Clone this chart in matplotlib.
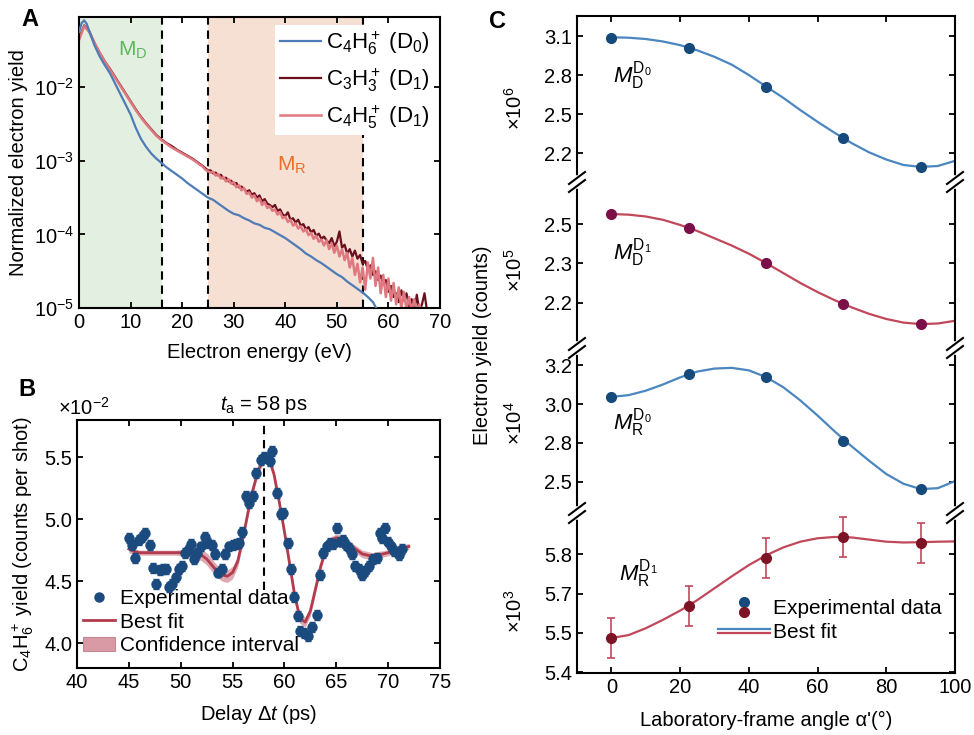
import numpy as np
import matplotlib
matplotlib.use('Agg')
import matplotlib.pyplot as plt
from matplotlib.lines import Line2D
from matplotlib.patches import Patch
from matplotlib.legend_handler import HandlerBase
from matplotlib.ticker import NullLocator, FixedLocator, FormatStrFormatter
from matplotlib.transforms import blended_transform_factory

# ---------------- data: panel A (log10 of normalized yield) ----------------
energy_d0 = [0, 0.5, 1, 1.5, 2, 3, 4, 5, 6, 7, 8, 9, 10, 11, 12, 13, 14, 15, 16, 17, 18, 19,
             20, 21, 22, 23, 24, 25, 26, 27, 28, 29, 30, 31, 32, 33, 34, 35, 36, 37, 38, 39,
             40, 41, 42, 43, 44, 45, 46, 47, 48, 49, 50, 51, 52, 53, 54, 55, 56, 57, 58]
logy_d0 = [-1.25, -1.13, -1.09, -1.14, -1.24, -1.43, -1.58, -1.70, -1.81, -1.95, -2.09, -2.23,
           -2.37, -2.55, -2.70, -2.81, -2.90, -2.97, -3.03, -3.09, -3.14, -3.19, -3.24, -3.30,
           -3.35, -3.40, -3.45, -3.50, -3.53, -3.58, -3.63, -3.68, -3.72, -3.74, -3.78, -3.81,
           -3.85, -3.87, -3.91, -3.93, -3.97, -4.01, -4.05, -4.10, -4.15, -4.20, -4.26, -4.30,
           -4.35, -4.39, -4.44, -4.49, -4.54, -4.58, -4.64, -4.69, -4.74, -4.79, -4.85, -4.92, -5.05]

energy_c3h3 = list(range(0, 25)) + [24.5 + 0.5 * i for i in range(88)]
logy_c3h3 = [-1.34, -1.16, -1.24, -1.40, -1.53, -1.65, -1.75, -1.86, -1.97, -2.08, -2.19, -2.30,
             -2.40, -2.49, -2.57, -2.65, -2.71, -2.76, -2.80, -2.85, -2.89, -2.93, -2.97, -3.02, -3.07,
             -3.10, -3.13, -3.13, -3.17, -3.16, -3.20, -3.19, -3.24, -3.23, -3.28, -3.27, -3.32,
             -3.30, -3.36, -3.35, -3.38, -3.42, -3.40, -3.46, -3.44, -3.50, -3.47, -3.55, -3.52,
             -3.58, -3.60, -3.63, -3.60, -3.68, -3.66, -3.73, -3.75, -3.70, -3.80, -3.78, -3.84,
             -3.80, -3.88, -3.86, -3.93, -3.90, -3.97, -3.94, -4.02, -3.99, -4.06, -4.03, -4.08,
             -4.12, -4.05, -4.16, -4.10, -3.96, -4.18, -4.14, -4.26, -4.20, -4.30, -4.22, -4.33,
             -4.28, -4.40, -4.36, -4.48, -4.42, -4.55, -4.50, -4.62, -4.56, -4.68, -4.62, -4.78,
             -4.70, -4.85, -4.80, -4.92, -4.76, -4.90, -4.80, -4.98, -4.88, -5.05, -4.82, -5.05,
             -4.95, -4.80, -5.05, -5.10]

energy_c4h5 = list(range(0, 25)) + [24.5 + 0.5 * i for i in range(85)]
logy_c4h5 = [-1.36, -1.17, -1.25, -1.40, -1.53, -1.65, -1.76, -1.87, -1.98, -2.09, -2.20, -2.31,
             -2.41, -2.50, -2.58, -2.66, -2.72, -2.77, -2.82, -2.86, -2.90, -2.94, -2.98, -3.03, -3.08,
             -3.12, -3.14, -3.16, -3.15, -3.20, -3.18, -3.24, -3.22, -3.28, -3.25, -3.31, -3.29,
             -3.36, -3.33, -3.40, -3.37, -3.45, -3.43, -3.50, -3.47, -3.55, -3.51, -3.60, -3.56,
             -3.64, -3.62, -3.68, -3.66, -3.73, -3.70, -3.78, -3.76, -3.83, -3.80, -3.88, -3.85,
             -3.92, -3.89, -3.96, -3.93, -4.01, -3.98, -4.06, -4.02, -4.10, -4.07, -4.15, -4.08,
             -4.20, -4.12, -4.25, -4.15, -4.30, -4.20, -4.35, -4.25, -4.45, -4.32, -4.55, -4.40,
             -4.65, -4.45, -4.75, -4.38, -4.60, -4.32, -4.70, -4.45, -4.80, -4.55, -4.85, -4.60,
             -4.90, -4.66, -4.95, -4.72, -5.00, -4.78, -5.02, -4.85, -5.05, -4.88, -5.05, -4.95, -5.10]

regions_A = {'MD': (0, 16), 'MR': (25, 55)}

# ---------------- data: panel B ----------------
delay = [45.0, 45.3, 45.6, 46.0, 46.3, 46.6, 47.0, 47.3, 47.6, 48.0, 48.3, 48.6, 48.9, 49.2,
         49.5, 49.8, 50.1, 50.4, 50.7, 51.0, 51.3, 51.6, 52.0, 52.3, 52.6, 53.0, 53.3, 53.6,
         54.0, 54.3, 54.7, 55.0, 55.3, 55.6, 55.9, 56.3, 56.6, 57.0, 57.3, 57.7, 58.0, 58.3,
         58.6, 58.8, 59.3, 59.7, 59.9, 60.3, 60.6, 60.9, 61.3, 61.5, 61.9, 62.3, 62.7, 63.1,
         63.4, 63.7, 64.1, 64.4, 64.7, 65.1, 65.4, 65.6, 65.9, 66.2, 66.5, 66.8, 67.2, 67.5,
         67.8, 68.2, 68.5, 68.9, 69.2, 69.4, 69.7, 70.0, 70.3, 70.6, 71.0, 71.3]
yield_b = [4.85, 4.79, 4.69, 4.83, 4.86, 4.89, 4.79, 4.61, 4.48, 4.59, 4.60, 4.60, 4.45, 4.48,
           4.53, 4.60, 4.62, 4.73, 4.75, 4.80, 4.68, 4.73, 4.78, 4.86, 4.81, 4.79, 4.72, 4.57,
           4.60, 4.72, 4.78, 4.79, 4.80, 4.81, 4.90, 5.19, 5.13, 5.19, 5.37, 5.48, 5.50, 5.49,
           5.47, 5.55, 5.21, 5.04, 5.05, 4.81, 4.60, 4.37, 4.22, 4.10, 4.08, 4.06, 4.13, 4.23,
           4.55, 4.73, 4.78, 4.81, 4.80, 4.93, 4.82, 4.83, 4.79, 4.77, 4.72, 4.62, 4.60, 4.55,
           4.58, 4.62, 4.68, 4.69, 4.89, 4.85, 4.93, 4.82, 4.78, 4.74, 4.71, 4.76]
yield_err = 0.04
fit_t = [45.0 + 0.5 * i for i in range(55)]
fit_y = [4.76, 4.74, 4.73, 4.73, 4.73, 4.73, 4.73, 4.73, 4.73, 4.73, 4.73, 4.73, 4.73, 4.72,
         4.71, 4.68, 4.63, 4.58, 4.55, 4.54, 4.57, 4.66, 4.85, 5.06, 5.25, 5.40, 5.48, 5.49,
         5.36, 5.14, 4.90, 4.64, 4.38, 4.20, 4.17, 4.26, 4.44, 4.62, 4.76, 4.83, 4.85, 4.84,
         4.81, 4.78, 4.75, 4.72, 4.71, 4.70, 4.71, 4.72, 4.73, 4.75, 4.76, 4.77, 4.78]
fit_ci = [0.03, 0.025, 0.02, 0.02, 0.02, 0.02, 0.02, 0.02, 0.02, 0.02, 0.025, 0.03, 0.035, 0.04,
          0.045, 0.05, 0.05, 0.05, 0.05, 0.05, 0.05, 0.045, 0.04, 0.035, 0.03, 0.03, 0.03, 0.03,
          0.03, 0.03, 0.03, 0.035, 0.04, 0.04, 0.04, 0.04, 0.035, 0.03, 0.03, 0.03, 0.03, 0.03,
          0.03, 0.03, 0.03, 0.03, 0.03, 0.03, 0.03, 0.025, 0.025, 0.025, 0.025, 0.025, 0.025]
t_a = 58

# ---------------- data: panel C ----------------
angles = [0, 22.5, 45, 67.5, 90]
fit_angles = [0, 5, 10, 15, 20, 25, 30, 35, 40, 45, 50, 55, 60, 65, 70, 75, 80, 85, 90, 95, 100]
md_d0 = [3.085, 3.008, 2.708, 2.315, 2.093]
md_d0_fit = [3.090, 3.087, 3.077, 3.058, 3.030, 2.990, 2.940, 2.880, 2.800, 2.712, 2.625,
             2.530, 2.440, 2.355, 2.275, 2.205, 2.150, 2.108, 2.093, 2.100, 2.140]
md_d1 = [2.493, 2.447, 2.331, 2.195, 2.129]
md_d1_fit = [2.493, 2.491, 2.485, 2.474, 2.457, 2.437, 2.413, 2.389, 2.362, 2.331, 2.298,
             2.265, 2.235, 2.208, 2.184, 2.163, 2.146, 2.134, 2.129, 2.131, 2.140]
mr_d0 = [3.020, 3.149, 3.132, 2.770, 2.500]
mr_d0_fit = [3.020, 3.030, 3.055, 3.090, 3.130, 3.163, 3.180, 3.184, 3.170, 3.132, 3.075,
             3.000, 2.915, 2.825, 2.740, 2.660, 2.585, 2.530, 2.500, 2.505, 2.545]
mr_d1 = [5.511, 5.632, 5.815, 5.894, 5.872]
mr_d1_err = [0.076, 0.076, 0.076, 0.076, 0.076]
mr_d1_fit = [5.511, 5.522, 5.548, 5.580, 5.615, 5.655, 5.700, 5.745, 5.788, 5.825, 5.855,
             5.877, 5.890, 5.895, 5.893, 5.885, 5.877, 5.874, 5.875, 5.877, 5.878]

# ---------------- style ----------------
plt.rcParams.update({
    'font.family': ['Liberation Sans', 'DejaVu Sans'],
    'mathtext.fontset': 'custom',
    'mathtext.rm': 'Liberation Sans',
    'mathtext.it': 'Liberation Sans:italic',
    'mathtext.bf': 'Liberation Sans:bold',
    'mathtext.sf': 'Liberation Sans',
    'axes.linewidth': 1.5,
    'xtick.direction': 'in', 'ytick.direction': 'in',
    'xtick.major.size': 4.5, 'ytick.major.size': 4.5,
    'xtick.major.width': 1.3, 'ytick.major.width': 1.3,
    'font.size': 14.5, 'xtick.labelsize': 14.5, 'ytick.labelsize': 14.5,
})

W, H = 974, 735
fig = plt.figure(figsize=(W / 100, H / 100), dpi=100)


def rect(l, t, r, b):
    return [l / W, 1 - b / H, (r - l) / W, (b - t) / H]


BLUE_A = '#4d7cb6'
DARK_A = '#6a0f1e'
PINK_A = '#e07880'

# ---------------- panel A ----------------
axA = fig.add_axes(rect(79, 17, 440, 308))
axA.axvspan(*regions_A['MD'], color='#e3efe1', lw=0, zorder=0)
axA.axvspan(*regions_A['MR'], color='#f6dfd3', lw=0, zorder=0)
for xv in (regions_A['MD'][1], regions_A['MR'][0], regions_A['MR'][1]):
    axA.axvline(xv, color='k', lw=1.5, dashes=(4, 2.8), zorder=1)
l1, = axA.plot(energy_d0, 10 ** np.array(logy_d0), color=BLUE_A, lw=1.6, zorder=3)
l2, = axA.plot(energy_c3h3, 10 ** np.array(logy_c3h3), color=DARK_A, lw=1.6, zorder=2)
l3, = axA.plot(energy_c4h5, 10 ** np.array(logy_c4h5), color=PINK_A, lw=1.8, zorder=2.5)
axA.set_yscale('log')
axA.set_ylim(1e-5, 0.09)
axA.set_xlim(0, 70)
axA.set_xticks(range(0, 71, 10))
axA.set_yticks([1e-5, 1e-4, 1e-3, 1e-2])
axA.yaxis.set_minor_locator(NullLocator())
axA.tick_params(top=True, right=True, which='both')
axA.set_xlabel('Electron energy (eV)', labelpad=8)
axA.set_ylabel('Normalized electron yield', labelpad=4)
axA.text(0.15, 0.887, r'M$_\mathrm{D}$', transform=axA.transAxes, color='#5cb85c',
         fontsize=15, ha='center', va='center')
axA.text(0.59, 0.491, r'M$_\mathrm{R}$', transform=axA.transAxes, color='#e8702a',
         fontsize=15, ha='center', va='center')
legA = axA.legend([l1, l2, l3],
                  [r'C$_4$H$_6^+$ (D$_0$)', r'C$_3$H$_3^+$ (D$_1$)', r'C$_4$H$_5^+$ (D$_1$)'],
                  loc='upper right', bbox_to_anchor=((434 - 79) / 361, (308 - 25) / 291),
                  fontsize=16, frameon=True, fancybox=False, framealpha=1, edgecolor='none',
                  facecolor='white', borderaxespad=0, borderpad=0.2, handlelength=1.85,
                  handletextpad=0.22, labelspacing=0.42)
legA.set_zorder(5)

# ---------------- panel B ----------------
NAVY = '#1b4a7e'
FITR = '#b23c4e'
BAND = '#d99aa5'
axB = fig.add_axes(rect(77, 420, 440, 668))
axB.fill_between(fit_t, np.array(fit_y) - np.array(fit_ci), np.array(fit_y) + np.array(fit_ci),
                 color=BAND, alpha=0.85, lw=0, zorder=2)
axB.plot(fit_t, fit_y, color=FITR, lw=2, zorder=3)
axB.axvline(t_a, ymin=(668 - 590) / 248, color='k', lw=1.5, dashes=(4, 2.8), zorder=1)
axB.errorbar(delay, yield_b, yerr=yield_err, fmt='o', ms=6.5, color=NAVY, ecolor=NAVY,
             elinewidth=1, capsize=2.5, capthick=1, zorder=4)
axB.set_xlim(40, 75)
axB.set_ylim(3.8, 5.8)
axB.set_xticks(range(40, 76, 5))
axB.set_yticks([4.0, 4.5, 5.0, 5.5])
axB.yaxis.set_major_formatter(FormatStrFormatter('%.1f'))
axB.tick_params(top=True, right=True)
axB.set_xlabel(r'Delay $\Delta t$ (ps)', labelpad=8)
axB.set_ylabel(r'C$_4$H$_6^+$ yield (counts per shot)', labelpad=6)
axB.text(-0.052, 1.005, r'$\times$10$^{-2}$', transform=axB.transAxes, ha='left', va='bottom')
trB = blended_transform_factory(axB.transData, axB.transAxes)
axB.text(t_a, 1.06, r'$t_\mathrm{a}$ = %d ps' % t_a, transform=trB, ha='center', va='center')
hB = [Line2D([], [], marker='o', ls='', ms=6.5, color=NAVY),
      Line2D([], [], color=FITR, lw=2),
      Patch(facecolor=BAND, edgecolor='#c48893', lw=0.8)]
legB = axB.legend(hB, ['Experimental data', 'Best fit', 'Confidence interval'],
                  loc='upper left', bbox_to_anchor=((83 - 77) / 363, (668 - 589) / 248),
                  fontsize=15, frameon=False, borderaxespad=0, borderpad=0.0,
                  handlelength=1.55, handletextpad=0.25, labelspacing=0.22)
legB.set_zorder(5)

# ---------------- panel C ----------------
BLUE_PT = '#174a7c'
BLUE_LN = '#4a86c0'
PURP_PT = '#7b1048'
RED_LN = '#c0485a'
MAROON_PT = '#7d1426'

bounds = [16, 182, 348, 513, 673]
mult_y = [108, 270, 423, 611]
specs = [
    (md_d0, md_d0_fit, None, BLUE_PT, BLUE_LN, (1.977, 3.254), [3.1, 2.8, 2.5, 2.2],
     r'$M_\mathrm{D}^{\mathrm{D}_0}$', 2.79, r'$\times$10$^6$'),
    (md_d1, md_d1_fit, None, PURP_PT, RED_LN, (2.050, 2.599), [2.46, 2.33, 2.20],
     r'$M_\mathrm{D}^{\mathrm{D}_1}$', 2.364, r'$\times$10$^5$'),
    (mr_d0, mr_d0_fit, None, BLUE_PT, BLUE_LN, (2.365, 3.296), [3.2, 2.98, 2.76, 2.54],
     r'$M_\mathrm{R}^{\mathrm{D}_0}$', 2.873, r'$\times$10$^4$'),
    (mr_d1, mr_d1_fit, mr_d1_err, MAROON_PT, RED_LN, (5.378, 5.986), [5.83, 5.68, 5.53, 5.38],
     r'$M_\mathrm{R}^{\mathrm{D}_1}$', 5.754, r'$\times$10$^3$'),
]
axesC = []
for i, (pts, fit, err, pc, lc, yl, yt, lab, laby, mult) in enumerate(specs):
    ax = fig.add_axes(rect(577, bounds[i], 955, bounds[i + 1]))
    ax.plot(fit_angles, fit, color=lc, lw=1.6, zorder=2)
    if err is None:
        ax.plot(angles, pts, 'o', color=pc, ms=7, zorder=3)
    else:
        ax.errorbar(angles, pts, yerr=err, fmt='o', color=pc, ms=7, ecolor=lc,
                    elinewidth=1.2, capsize=3, capthick=1.2, zorder=3)
    ax.set_xlim(-10, 100)
    ax.set_ylim(*yl)
    ax.set_xticks(range(0, 101, 20))
    ax.yaxis.set_major_locator(FixedLocator(yt))
    ax.yaxis.set_major_formatter(FormatStrFormatter('%.1f'))
    ax.tick_params(right=True, top=(i == 0), bottom=(i == 3), labelbottom=(i == 3))
    if i != 0:
        ax.spines['top'].set_visible(False)
    if i != 3:
        ax.spines['bottom'].set_visible(False)
    ax.text(0.5 if i < 3 else 2.3, laby, lab, fontsize=16, ha='left', va='center')
    fig.text(515 / W, 1 - mult_y[i] / H, mult, rotation=90, ha='center', va='center')
    ax.patch.set_alpha(0)
    axesC.append(ax)
axesC[3].set_xlabel("Laboratory-frame angle \u03b1'(\u00b0)", labelpad=10)
fig.text(483 / W, 1 - 345 / H, 'Electron yield (counts)', rotation=90, ha='center', va='center')


class Stack:
    def __init__(self, items, kind):
        self.items = items
        self.kind = kind


class StackHandler(HandlerBase):
    def create_artists(self, legend, orig_handle, xdescent, ydescent, width, height,
                       fontsize, trans):
        arts = []
        yc = (height - ydescent) / 2
        n = len(orig_handle.items)
        sep = 7.0 if orig_handle.kind == 'marker' else 3.4
        for k, h in enumerate(orig_handle.items):
            y = yc + (0.5 * (n - 1) - k) * sep
            if orig_handle.kind == 'marker':
                a = Line2D([width / 2 - xdescent], [y], marker='o', ls='', ms=7,
                           color=h.get_color())
            else:
                a = Line2D([-xdescent, width - xdescent], [y, y], color=h.get_color(), lw=1.6)
            a.set_transform(trans)
            arts.append(a)
        return arts


hC = [Stack([Line2D([], [], color=BLUE_PT), Line2D([], [], color=MAROON_PT)], 'marker'),
      Stack([Line2D([], [], color=BLUE_LN), Line2D([], [], color=RED_LN)], 'line')]
axesC[3].legend(hC, ['Experimental data', 'Best fit'], handler_map={Stack: StackHandler()},
                loc='upper left', bbox_to_anchor=(718 / W, 1 - 599 / H),
                bbox_transform=fig.transFigure, fontsize=15, frameon=False,
                borderaxespad=0, borderpad=0, handlelength=2.5, handletextpad=0.15,
                labelspacing=0.25)


def fx(p):
    return p / W


def fy(p):
    return 1 - p / H


for yb in bounds[1:4]:
    for xb in (577, 955):
        fig.add_artist(Line2D([fx(xb)] * 2, [fy(yb - 4), fy(yb + 4)], color='white', lw=4,
                              transform=fig.transFigure, zorder=10))
        for dy in (-4, 4):
            fig.add_artist(Line2D([fx(xb - 8), fx(xb + 8)], [fy(yb + dy + 6), fy(yb + dy - 6)],
                                  color='k', lw=1.5, transform=fig.transFigure, zorder=11))

# panel letters
fig.text(30 / W, 1 - 20 / H, 'A', fontsize=17, fontweight='bold', ha='center', va='center')
fig.text(27 / W, 1 - 390 / H, 'B', fontsize=17, fontweight='bold', ha='center', va='center')
fig.text(498 / W, 1 - 22 / H, 'C', fontsize=17, fontweight='bold', ha='center', va='center')

fig.savefig('out.png', dpi=100)
